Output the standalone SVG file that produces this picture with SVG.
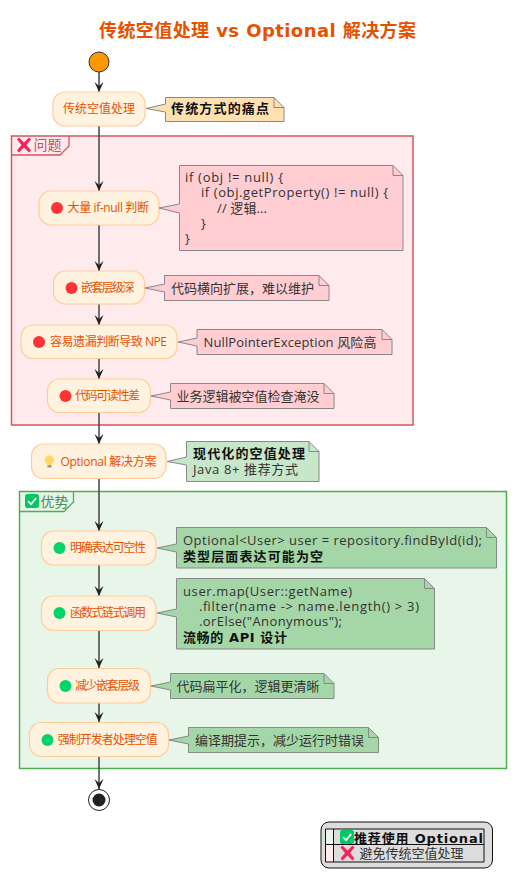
<svg xmlns="http://www.w3.org/2000/svg" width="517" height="893" viewBox="0 0 517 893">
<style>
text{font-family:"Open Sans","Noto Sans CJK SC",sans-serif;font-size:13px;fill:#333}
.title{font-family:"DejaVu Sans","Noto Sans CJK SC",sans-serif;font-size:18px;font-weight:700;fill:#E65100}
.n{font-size:12px;fill:#E65100}
.b{font-family:"DejaVu Sans","Noto Sans CJK SC",sans-serif;font-weight:700;fill:#111}
.node{fill:#FFF3E0;stroke:#FFCC99;stroke-width:1.2}
.note{stroke:#888;stroke-width:1;stroke-linejoin:miter}
.fold{fill:none;stroke:#888;stroke-width:1}
.red{fill:#FFCDD2}.grn{fill:#A5D6A7}.lgrn{fill:#C8E6C9}.org{fill:#FFE0B2}
.r{fill:#FF3333}.g{fill:#00D46A}
.line{stroke:#444;stroke-width:1.5;fill:none}
.head{fill:#222}
.gt{font-size:14px}
</style>
<defs>
<path id="ah" class="head" d="M0 0L-4.500 -10L0 -6L4.500 -10Z"/>
<path id="xi" d="M-7 -5.500L-5 -7.500L0 -2.500L5 -7.500L7 -5.500L2.500 0L7 5.500L5 7.500L0 2.500L-5 7.500L-7 5.500L-2.500 0Z" fill="#F4245D"/>
<g id="ck"><rect x="-7" y="-7" width="14" height="14" rx="2.500" fill="#00C864"/><path d="M-4 0.200L-1 3.200L4.200 -3" fill="none" stroke="#fff" stroke-width="1.700"/></g>
</defs>
<text class="title" x="99" y="37" textLength="317">传统空值处理 vs Optional 解决方案</text>

<g id="group-problem"><rect x="11.500" y="136" width="401.500" height="289" fill="#FFEBEE" stroke="#D6565C" stroke-width="1.5"/><path d="M11.500 155H60L69 146V136" fill="none" stroke="#D6565C" stroke-width="1.3"/><use href="#xi" x="24" y="145"/><text class="gt" x="33.500" y="150" style="fill:#B5566A">问题</text></g>
<g id="group-benefit"><rect x="19.500" y="491.500" width="487" height="277" fill="#E8F5E9" stroke="#4CAF50" stroke-width="1.5"/><path d="M19.500 511.500H64L73.500 502V491.500" fill="none" stroke="#4CAF50" stroke-width="1.3"/><use href="#ck" x="32" y="501"/><text class="gt" x="40.500" y="506.500" style="fill:#4C8A50">优势</text></g>

<g id="connectors">
<path class="line" d="M99 72V92M99 126V191M99 225V271M99 304V325M99 358V379M99 412V444M99 478V531M99 565V596M99 630V668M99 703V722M99 756V789"/>
<use href="#ah" x="99" y="92"/><use href="#ah" x="99" y="191"/><use href="#ah" x="99" y="271"/><use href="#ah" x="99" y="325"/><use href="#ah" x="99" y="379"/><use href="#ah" x="99" y="444"/><use href="#ah" x="99" y="531"/><use href="#ah" x="99" y="596"/><use href="#ah" x="99" y="668"/><use href="#ah" x="99" y="722"/><use href="#ah" x="99" y="789"/>
</g>

<g id="start"><circle cx="99" cy="62" r="10" fill="#FF9800" stroke="#333" stroke-width="1"/></g>

<g id="n1"><rect class="node" x="53" y="92" width="92" height="34" rx="12"/><text class="n" x="63" y="113">传统空值处理</text></g>
<g id="note1"><path class="note org" d="M165.500 97.500V104L146 108.500L165.500 112V121.500H284V107.500L274 97.500Z"/><path class="fold" d="M274 97.500V107.500H284"/><text class="b" x="171" y="113" textLength="98">传统方式的痛点</text></g>

<g id="n2"><rect class="node" x="39" y="191" width="120" height="34" rx="12"/><circle class="r" cx="57" cy="208" r="6"/><text class="n" x="67.500" y="212" textLength="81.500">大量 if-null 判断</text></g>
<g id="note2"><path class="note red" d="M179.500 165.500V204L159 208L179.500 213V250.500H403V175.500L393 165.500Z"/><path class="fold" d="M393 165.500V175.500H403"/><text x="185" y="182" textLength="98">if (obj != null) {</text><text x="201" y="197" textLength="187">if (obj.getProperty() != null) {</text><text x="217" y="213" textLength="50">// 逻辑...</text><text x="201" y="228">}</text><text x="185" y="243">}</text></g>

<g id="n3"><rect class="node" x="53.500" y="271" width="91" height="33" rx="12"/><circle class="r" cx="71.500" cy="288" r="6"/><text class="n" x="81" y="292" textLength="53.500">嵌套层级深</text></g>
<g id="note3"><path class="note red" d="M164.500 275.500V284L145 288L164.500 292V300.500H329V285.500L319 275.500Z"/><path class="fold" d="M319 275.500V285.500H329"/><text x="171" y="293">代码横向扩展，难以维护</text></g>

<g id="n4"><rect class="node" x="21" y="325" width="156" height="33.500" rx="12"/><circle class="r" cx="39" cy="342" r="6"/><text class="n" x="50" y="346" textLength="117">容易遗漏判断导致 NPE</text></g>
<g id="note4"><path class="note red" d="M197 329.500V338L178 342L197 346V354.500H392V339.500L382 329.500Z"/><path class="fold" d="M382 329.500V339.500H392"/><text x="203.500" y="347" textLength="173">NullPointerException 风险高</text></g>

<g id="n5"><rect class="node" x="47.500" y="379" width="103" height="33.500" rx="12"/><circle class="r" cx="65.500" cy="396" r="6"/><text class="n" x="75" y="400" textLength="65">代码可读性差</text></g>
<g id="note5"><path class="note red" d="M170.500 383.500V392L151 396L170.500 400V408.500H334V393.500L324 383.500Z"/><path class="fold" d="M324 383.500V393.500H334"/><text x="176.500" y="401">业务逻辑被空值检查淹没</text></g>

<g id="n6"><rect class="node" x="31.500" y="444" width="134.500" height="34.500" rx="12"/><path d="M49.500 455.500a4.500 4.500 0 0 0-3 8l.8 1.500h4.400l.8-1.500a4.500 4.500 0 0 0-3-8Z" fill="#FFD966"/><rect x="47.500" y="465" width="4" height="2.500" fill="#999"/><text class="n" x="60.500" y="466" textLength="96">Optional 解决方案</text></g>
<g id="note6"><path class="note lgrn" d="M186.500 441.500V457L167 461.500L186.500 465V481.500H319V451.500L309 441.500Z"/><path class="fold" d="M309 441.500V451.500H319"/><text class="b" x="193" y="458" textLength="112">现代化的空值处理</text><text x="193" y="474" textLength="105">Java 8+ 推荐方式</text></g>

<g id="n7"><rect class="node" x="41.500" y="531" width="114.500" height="34" rx="12"/><circle class="g" cx="59.500" cy="548" r="6"/><text class="n" x="70" y="552" textLength="76">明确表达可空性</text></g>
<g id="note7"><path class="note grn" d="M176.500 527.500V544L157 548L176.500 552V568H496.500V537.500L486.500 527.500Z"/><path class="fold" d="M486.500 527.500V537.500H496.500"/><text x="183" y="545" textLength="299">Optional&lt;User&gt; user = repository.findById(id);</text><text class="b" x="183" y="561" textLength="140">类型层面表达可能为空</text></g>

<g id="n8"><rect class="node" x="41.500" y="596" width="114.500" height="34.500" rx="12"/><circle class="g" cx="59.500" cy="613" r="6"/><text class="n" x="70" y="617" textLength="76">函数式链式调用</text></g>
<g id="note8"><path class="note grn" d="M176.500 578.500V609L157 613L176.500 617V649H434.500V588.500L424.500 578.500Z"/><path class="fold" d="M424.500 578.500V588.500H434.500"/><text x="183" y="596" textLength="169">user.map(User::getName)</text><text x="199" y="611" textLength="220">.filter(name -&gt; name.length() &gt; 3)</text><text x="199" y="626" textLength="143">.orElse("Anonymous");</text><text class="b" x="183" y="642" textLength="104">流畅的 API 设计</text></g>

<g id="n9"><rect class="node" x="47.500" y="668.500" width="103" height="34.500" rx="12"/><circle class="g" cx="65.500" cy="686" r="6"/><text class="n" x="75" y="690" textLength="65">减少嵌套层级</text></g>
<g id="note9"><path class="note grn" d="M170.500 673.500V682L151 686L170.500 690V698.500H334V683.500L324 673.500Z"/><path class="fold" d="M324 673.500V683.500H334"/><text x="176.500" y="691">代码扁平化，逻辑更清晰</text></g>

<g id="n10"><rect class="node" x="29.500" y="722.500" width="139" height="34" rx="12"/><circle class="g" cx="47.500" cy="740" r="6"/><text class="n" x="57.700" y="744" textLength="100">强制开发者处理空值</text></g>
<g id="note10"><path class="note grn" d="M188.500 727.500V736L169 740L188.500 744V752.500H378.500V737.500L368.500 727.500Z"/><path class="fold" d="M368.500 727.500V737.500H378.500"/><text x="195" y="745">编译期提示，减少运行时错误</text></g>

<g id="end"><circle cx="99" cy="800" r="10.500" fill="#fff" stroke="#222" stroke-width="1"/><circle cx="99" cy="800" r="6.500" fill="#222"/></g>

<g id="legend"><rect x="321" y="822" width="171.500" height="46" rx="8" fill="#DDD" stroke="#111" stroke-width="1"/>
<rect x="325.500" y="829" width="8" height="15.500" fill="#E8F5E9"/><rect x="325.500" y="844.500" width="8" height="17.500" fill="#FFEBEE"/>
<path d="M325.500 829H484V862H325.500ZM325.500 844.500H484M333.500 829V862" fill="none" stroke="#111" stroke-width="1"/>
<use href="#ck" x="347" y="837"/><use href="#xi" x="347.500" y="853"/>
<text class="b" x="354" y="842.500" textLength="129">推荐使用 Optional</text><text x="359.500" y="858">避免传统空值处理</text></g>
</svg>
